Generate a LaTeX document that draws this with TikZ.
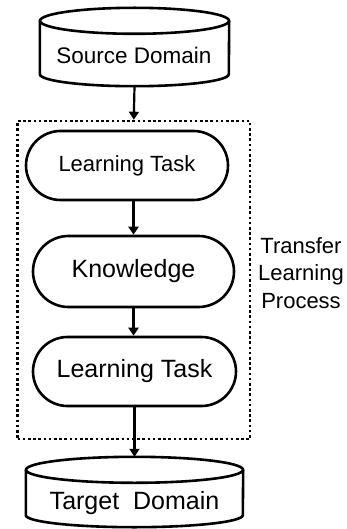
\documentclass[tikz,border=0pt]{standalone}
\usepackage{fontspec}
\setmainfont{Liberation Sans}
\usetikzlibrary{arrows.meta,shapes.misc}
\begin{document}
\begin{tikzpicture}[x=1pt,y=1pt,
  outl/.style={line width=2.6pt},
  cylbox/.style={draw=none,inner sep=0pt,minimum width=#1},
  stadium/.style={rounded rectangle,draw,line width=2.6pt,inner sep=0pt},
  txt/.style={inner sep=0pt},
  dotbox/.style={draw,line width=2.6pt,dash pattern=on 2.6pt off 2.6pt,inner sep=0pt},
  arr/.style={line width=2.2pt,-{Triangle[width=10pt,length=8pt]}},
  lbl/.style={align=center,inner sep=0pt,font=\fontsize{22}{27.5}\selectfont}
]
\useasboundingbox (0,0) rectangle (347,-529);

% dotted process box
\node[dotbox,minimum width=232.5pt,minimum height=318pt] (box) at (133.75,-280) {};

% source cylinder
\node[cylbox=189pt,minimum height=78pt] (src) at (134.5,-47) {};
\draw[outl,fill=white] ([yshift=-13pt]src.north west) -- ([yshift=12pt]src.south west)
  arc[start angle=180,end angle=360,x radius=94.5pt,y radius=12pt]
  -- ([yshift=-13pt]src.north east);
\draw[outl] ([yshift=-13pt]src.north) ellipse[x radius=94.5pt,y radius=13pt];
\node[txt,font=\fontsize{22.5}{27}\selectfont] (srct) at (134,-55) {Source Domain};

% stadiums
\node[stadium,minimum width=202pt,minimum height=69pt,font=\fontsize{22}{26}\selectfont] (lt1) at (127,-165.5) {Learning Task};
\node[stadium,minimum width=201pt,minimum height=71pt,font=\fontsize{25}{30}\selectfont] (kn) at (133.5,-271.5) {Knowledge};
\node[stadium,minimum width=203pt,minimum height=69pt,font=\fontsize{25}{30}\selectfont] (lt2) at (134.5,-371.5) {Learning Task};

% target cylinder
\node[cylbox=217pt,minimum height=70pt] (tgt) at (134.5,-492) {};
\draw[outl,fill=white] ([yshift=-13pt]tgt.north west) -- ([yshift=12pt]tgt.south west)
  arc[start angle=180,end angle=360,x radius=108.5pt,y radius=12pt]
  -- ([yshift=-13pt]tgt.north east);
\draw[outl] ([yshift=-13pt]tgt.north) ellipse[x radius=108.5pt,y radius=13pt];
\node[txt,font=\fontsize{25}{30}\selectfont] (tgtt) at (134.5,-503) {Target~~Domain};

% label
\node[lbl] (proc) at (301,-273) {Transfer\\Learning\\Process};

% arrows
\draw[arr] (src.south) -- (box.north);
\draw[arr] (lt1.south -| kn.north) -- (kn.north);
\draw[arr] (kn.south) -- (kn.south |- lt2.north);
\draw[arr] (lt2.south) -- (tgt.north);
\end{tikzpicture}
\end{document}
